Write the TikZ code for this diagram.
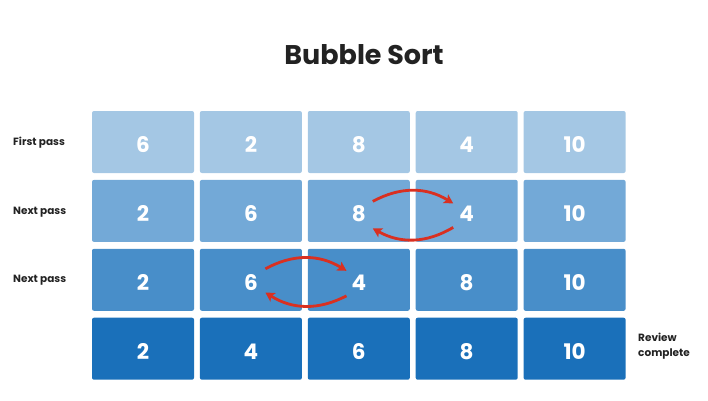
\documentclass[tikz,border=0pt]{standalone}
\usepackage{fontspec}
\setmainfont{Poppins}
\usepackage{tikz}
\usetikzlibrary{positioning,arrows.meta}
\definecolor{passone}{RGB}{164,199,228}
\definecolor{passtwo}{RGB}{115,169,215}
\definecolor{passthree}{RGB}{72,142,201}
\definecolor{passdone}{RGB}{26,112,186}
\definecolor{swapred}{RGB}{217,48,33}
\definecolor{labelgray}{RGB}{34,34,34}
\tikzstyle{cell} = [rounded corners=2pt,minimum width=102pt,minimum height=62pt,inner sep=0pt,text height=21pt,text depth=0pt,text=white,font=\fontsize{21.5}{24}\selectfont\bfseries]
\tikzstyle{passlabel} = [anchor=west,align=left,inner sep=0pt,text=labelgray,font=\fontsize{10.5}{14.5}\selectfont\bfseries]
\tikzstyle{swaparrow} = [draw=swapred,line width=2.8pt,-{Stealth[length=9pt,width=10pt,inset=2pt]}]

\begin{document}
\begin{tikzpicture}[x=1pt,y=-1pt,node distance=5.5pt]
        \useasboundingbox (0,0) rectangle (708,400);

        \node[text=labelgray,font=\fontsize{27}{31}\selectfont\bfseries] (title) at (364,55) {Bubble Sort};

        % first pass
        \node[cell,fill=passone] (a1) at (143,142) {6};
        \node[cell,fill=passone,right=of a1] (a2) {2};
        \node[cell,fill=passone,right=of a2] (a3) {8};
        \node[cell,fill=passone,right=of a3] (a4) {4};
        \node[cell,fill=passone,right=of a4] (a5) {10};

        % next pass
        \node[cell,fill=passtwo,below=6.5pt of a1] (b1) {2};
        \node[cell,fill=passtwo,right=of b1] (b2) {6};
        \node[cell,fill=passtwo,right=of b2] (b3) {8};
        \node[cell,fill=passtwo,right=of b3] (b4) {4};
        \node[cell,fill=passtwo,right=of b4] (b5) {10};

        % next pass
        \node[cell,fill=passthree,below=6.5pt of b1] (c1) {2};
        \node[cell,fill=passthree,right=of c1] (c2) {6};
        \node[cell,fill=passthree,right=of c2] (c3) {4};
        \node[cell,fill=passthree,right=of c3] (c4) {8};
        \node[cell,fill=passthree,right=of c4] (c5) {10};

        % sorted
        \node[cell,fill=passdone,below=6.5pt of c1] (d1) {2};
        \node[cell,fill=passdone,right=of d1] (d2) {4};
        \node[cell,fill=passdone,right=of d2] (d3) {6};
        \node[cell,fill=passdone,right=of d3] (d4) {8};
        \node[cell,fill=passdone,right=of d4] (d5) {10};

        \node[passlabel] (firstpass) at (13,143) {First pass};
        \node[passlabel] (nextpass) at (13,212) {Next pass};
        \node[passlabel] (lastpass) at (13,280) {Next pass};
        \node[passlabel] (review) at (638,346) {Review\\complete};

        % swaps
        \draw[swaparrow] ([xshift=14pt,yshift=9.5pt]b3.center) to[bend left=30] ([xshift=-13.5pt,yshift=7.5pt]b4.center);
        \draw[swaparrow] ([xshift=-13.5pt,yshift=-16.5pt]b4.center) to[bend left=30] ([xshift=14pt,yshift=-17.5pt]b3.center);
        \draw[swaparrow] ([xshift=14.5pt,yshift=11pt]c2.center) to[bend left=30] ([xshift=-12.3pt,yshift=9pt]c3.center);
        \draw[swaparrow] ([xshift=-12.3pt,yshift=-16pt]c3.center) to[bend left=30] ([xshift=14.5pt,yshift=-12.7pt]c2.center);

      \end{tikzpicture}
\end{document}
